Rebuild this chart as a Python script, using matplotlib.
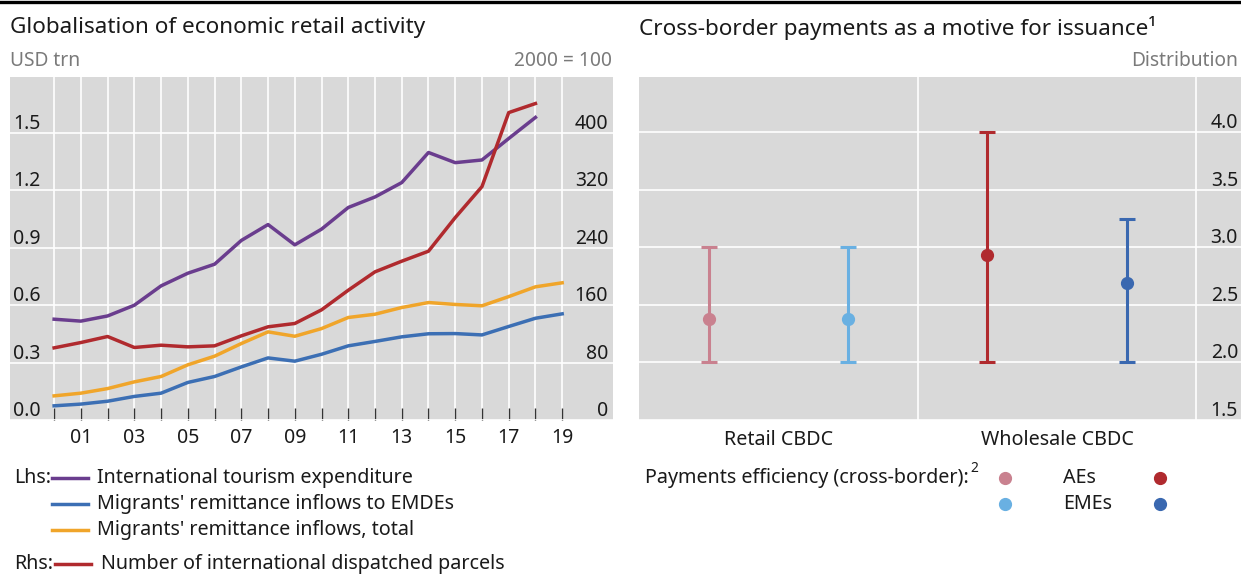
import matplotlib
matplotlib.use("Agg")
import matplotlib.pyplot as plt
from matplotlib.lines import Line2D

plt.rcParams['font.family'] = ['Noto Sans', 'DejaVu Sans']

# Left panel data (USD trn, lhs; index 2000 = 100, rhs)
years = list(range(2000, 2020))
tourism = [0.526, 0.516, 0.543, 0.599, 0.700, 0.766, 0.813, 0.937, 1.020, 0.914,
           0.996, 1.109, 1.164, 1.239, 1.396, 1.343, 1.357, 1.469, 1.579]
remit_emde = [0.074, 0.083, 0.098, 0.123, 0.140, 0.196, 0.227, 0.277, 0.324, 0.307,
              0.343, 0.387, 0.410, 0.434, 0.450, 0.451, 0.444, 0.488, 0.531, 0.554]
remit_total = [0.126, 0.140, 0.164, 0.199, 0.227, 0.288, 0.333, 0.399, 0.460, 0.437,
               0.477, 0.535, 0.552, 0.587, 0.613, 0.603, 0.596, 0.644, 0.695, 0.716]
parcels = [100.4, 107.8, 116.2, 100.9, 104.1, 101.8, 103.2, 117.1, 129.7, 134.3,
           153.3, 180.6, 206.2, 221.0, 234.9, 281.7, 324.8, 427.8, 440.4]
lhs_ticks = [0.0, 0.3, 0.6, 0.9, 1.2, 1.5]
rhs_ticks = [0, 80, 160, 240, 320, 400]

# Right panel data (distribution)
categories = ["Retail CBDC", "Wholesale CBDC"]
groups = ["AEs", "EMEs"]
retail_mid = [2.38, 2.38]
retail_low = [2.0, 2.0]
retail_high = [3.0, 3.0]
wholesale_mid = [2.93, 2.69]
wholesale_low = [2.0, 2.0]
wholesale_high = [4.0, 3.25]
dist_ticks = [1.5, 2.0, 2.5, 3.0, 3.5, 4.0]

W, H = 1241, 575
BG = "#d9d9d9"
TXT = "#1a1a1a"
GREY = "#7a7a7a"
PURPLE = "#6a3d8e"
BLUE = "#3c6fb4"
YELLOW = "#f0a52a"
RED = "#b02a2e"
PINK = "#c9818f"
LBLUE = "#69b0e2"
DRED = "#b02a2e"
DBLUE = "#3a68b0"

FS_TITLE = 16.2
FS_UNIT = 13.8
FS_TICK = 14
FS_LEG = 14.2


def fx(x):
    return x / W


def fy(y):
    return 1 - y / H


fig = plt.figure(figsize=(W / 100, H / 100), dpi=100)

# top rule
fig.add_artist(Line2D([0, 1], [fy(1.5), fy(1.5)], color="black", lw=2.4,
                      transform=fig.transFigure))

# ---------------- left panel ----------------
ax = fig.add_axes([fx(10), fy(420), fx(613 - 10), fy(77) - fy(420)])
ax.set_facecolor(BG)
for s in ax.spines.values():
    s.set_visible(False)
ax.set_xlim(1998.35, 2020.9)
ax.set_ylim(0, 1.79)
ax.set_xticks(years)
ax.set_xticklabels([f"{y % 100:02d}" if y % 2 == 1 else "" for y in years])
ax.set_yticks(lhs_ticks)
ax.tick_params(axis="x", direction="in", length=8.6, width=1, color="#333333",
               pad=6, labelsize=FS_TICK, labelcolor=TXT)
ax.tick_params(axis="y", length=0, labelleft=False)
ax.grid(True, color="white", lw=1.2)
ax.set_axisbelow(True)
for v in lhs_ticks:
    ax.annotate(f"{v:.1f}", xy=(0, v), xycoords=("axes fraction", "data"),
                xytext=(3, 4), textcoords="offset pixels", ha="left", va="baseline",
                fontsize=FS_TICK, color=TXT)

ax.plot(years[:len(tourism)], tourism, color=PURPLE, lw=2.5)
ax.plot(years, remit_emde, color=BLUE, lw=2.5)
ax.plot(years, remit_total, color=YELLOW, lw=2.5)

ax2 = ax.twinx()
ax2.patch.set_visible(False)
for s in ax2.spines.values():
    s.set_visible(False)
ax2.set_ylim(0, 1.79 * 800 / 3)
ax2.set_yticks([])
ax2.plot(years[:len(parcels)], parcels, color=RED, lw=2.5)
for v in rhs_ticks:
    ax2.annotate(f"{v}", xy=(1, v), xycoords=("axes fraction", "data"),
                 xytext=(-5, 4), textcoords="offset pixels", ha="right", va="baseline",
                 fontsize=FS_TICK, color=TXT)

fig.text(fx(10), fy(28), "Globalisation of economic retail activity", fontsize=FS_TITLE,
         color=TXT, va="center", ha="left")
fig.text(fx(10), fy(61), "USD trn", fontsize=FS_UNIT, color=GREY, va="center", ha="left")
fig.text(fx(612), fy(61), "2000 = 100", fontsize=FS_UNIT, color=GREY, va="center",
         ha="right")

# left legend
legend_rows = [
    ("Lhs:", "International tourism expenditure", PURPLE, 478),
    ("", "Migrants' remittance inflows to EMDEs", BLUE, 504),
    ("", "Migrants' remittance inflows, total", YELLOW, 530),
    ("Rhs:", "Number of international dispatched parcels", RED, 564),
]
for side, label, col, yy in legend_rows:
    if side:
        fig.text(fx(14), fy(yy), side, fontsize=FS_LEG, color=TXT, va="center", ha="left")
    x0 = 52 if side != "Rhs:" else 55
    fig.add_artist(Line2D([fx(x0), fx(x0 + 36)], [fy(yy), fy(yy)], color=col, lw=2.5,
                          transform=fig.transFigure))
    fig.text(fx(97 if side != "Rhs:" else 101), fy(yy), label, fontsize=FS_LEG, color=TXT,
             va="center", ha="left")

# ---------------- right panel ----------------
bx = fig.add_axes([fx(639), fy(420), fx(W - 639), fy(77) - fy(420)])
bx.set_facecolor(BG)
for s in bx.spines.values():
    s.set_visible(False)
bx.set_xlim(0, 2.16)
bx.set_ylim(1.5, 4.48)
bx.set_xticks([1, 2])
bx.set_yticks(dist_ticks)
bx.tick_params(axis="both", length=0, labelleft=False, labelbottom=False)
bx.grid(True, color="white", lw=1.2)
bx.set_axisbelow(True)
for v in dist_ticks:
    bx.annotate(f"{v:.1f}", xy=(1, v), xycoords=("axes fraction", "data"),
                xytext=(-3, 4), textcoords="offset pixels", ha="right", va="baseline",
                fontsize=FS_TICK, color=TXT)

series = [
    (retail_mid, retail_low, retail_high, [PINK, LBLUE]),
    (wholesale_mid, wholesale_low, wholesale_high, [DRED, DBLUE]),
]
for ci, (mid, low, high, cols) in enumerate(series):
    for gi in range(len(groups)):
        xpos = ci + 0.25 + 0.5 * gi
        bx.errorbar([xpos], [mid[gi]],
                    yerr=[[mid[gi] - low[gi]], [high[gi] - mid[gi]]],
                    fmt="o", color=cols[gi], ms=8.5, elinewidth=2.2, capsize=5.8,
                    capthick=2.2)

for ci, cat in enumerate(categories):
    bx.annotate(cat, xy=(ci + 0.5, 0), xycoords=("data", "axes fraction"),
                xytext=(0, -20), textcoords="offset pixels", ha="center", va="center",
                fontsize=FS_LEG, color=TXT)

fig.text(fx(639), fy(28), "Cross-border payments as a motive for issuance\u00b9",
         fontsize=FS_TITLE, color=TXT, va="center", ha="left")
fig.text(fx(1238), fy(61), "Distribution", fontsize=FS_UNIT, color=GREY, va="center",
         ha="right")

# right legend
fig.text(fx(645), fy(478), "Payments efficiency (cross-border):", fontsize=FS_LEG,
         color=TXT, va="center", ha="left")
fig.text(fx(970), fy(468), "2", fontsize=10, color=TXT, va="center", ha="left")
for gi, g in enumerate(groups):
    yy = 478 + 26 * gi
    fig.add_artist(Line2D([fx(1005)], [fy(yy)], marker="o", ms=8.5, ls="none",
                          color=series[0][3][gi], transform=fig.transFigure))
    fig.text(fx(1063), fy(yy), g, fontsize=FS_LEG, color=TXT, va="center", ha="left")
    fig.add_artist(Line2D([fx(1160)], [fy(yy)], marker="o", ms=8.5, ls="none",
                          color=series[1][3][gi], transform=fig.transFigure))

fig.savefig("out.png", dpi=100)
